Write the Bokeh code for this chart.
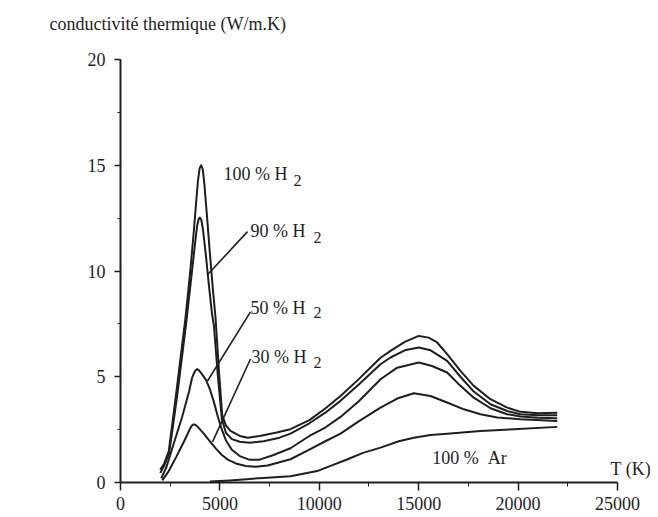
from bokeh.plotting import figure
from bokeh.models import SingleIntervalTicker, Label, Range1d, BasicTickFormatter
from bokeh.embed import file_html
from bokeh.resources import INLINE

# ---- data ----
T_h100 = [2000, 2200, 2431, 2800, 3270, 3500, 3700, 3800, 3900, 3980, 4060, 4140, 4220, 4350,
          4500, 4650, 4780, 4950, 5114, 5300, 5533, 6000, 6400, 7000, 7800, 8550, 9500, 10300,
          11067, 12000, 13080, 13580, 14300, 15000, 15500, 15930, 16430, 17100, 17770, 18610,
          19450, 20120, 21000, 21970]
k_h100 = [0.6, 0.9, 1.49, 4.2, 7.8, 9.9, 12.0, 13.2, 14.3, 14.85, 15.0, 14.8, 14.1, 12.6,
          10.8, 9.1, 7.8, 5.3, 3.2, 2.7, 2.44, 2.2, 2.12, 2.2, 2.35, 2.52, 2.95, 3.5,
          4.09, 4.9, 5.9, 6.22, 6.65, 6.93, 6.85, 6.62, 6.07, 5.28, 4.57, 3.94,
          3.54, 3.34, 3.28, 3.30]

T_h90 = [2000, 2200, 2450, 2850, 3300, 3550, 3750, 3850, 3930, 3990, 4070, 4150, 4300, 4450,
         4600, 4700, 4900, 5100, 5300, 5600, 6000, 6500, 7200, 8000, 8550, 9500, 10300, 11067,
         12000, 13080, 13580, 14300, 15000, 15600, 16430, 17100, 17770, 18610, 19450, 20120,
         21000, 21970]
k_h90 = [0.45, 0.8, 1.4, 4.1, 7.5, 9.6, 11.3, 12.1, 12.45, 12.53, 12.4, 11.95, 10.7, 9.3,
         8.0, 7.4, 5.0, 3.0, 2.35, 2.05, 1.93, 1.88, 1.95, 2.12, 2.31, 2.8, 3.3, 3.86,
         4.65, 5.59, 5.91, 6.25, 6.38, 6.25, 5.75, 5.0, 4.30, 3.70, 3.38, 3.23,
         3.18, 3.18]

T_h50 = [2050, 2300, 2700, 3100, 3450, 3600, 3720, 3800, 3857, 3950, 4050, 4300, 4500, 4700,
         4900, 5100, 5300, 5600, 6000, 6500, 7000, 7700, 8550, 9500, 10300, 11067, 12000, 13080,
         13920, 15000, 15670, 16430, 17100, 17770, 18610, 19450, 20120, 21000, 21970]
k_h50 = [0.2, 0.7, 1.9, 3.1, 4.3, 4.95, 5.22, 5.33, 5.36, 5.3, 5.18, 4.85, 4.4, 3.8,
         3.1, 2.5, 2.0, 1.55, 1.25, 1.07, 1.08, 1.3, 1.62, 2.2, 2.6, 3.10, 3.85, 4.88,
         5.43, 5.67, 5.51, 5.2, 4.57, 4.01, 3.51, 3.23, 3.12, 3.06, 3.04]

T_h30 = [2100, 2400, 2800, 3200, 3500, 3600, 3680, 3780, 3900, 4200, 4500, 4800, 5100, 5400,
         5800, 6300, 6800, 7400, 8550, 9500, 10300, 11067, 12000, 13080, 13920, 14755, 15590,
         16430, 17270, 18110, 18950, 20120, 21970]
k_h30 = [0.1, 0.5, 1.2, 1.95, 2.55, 2.7, 2.75, 2.72, 2.62, 2.3, 1.95, 1.6, 1.3, 1.08,
         0.9, 0.78, 0.74, 0.8, 1.10, 1.55, 1.95, 2.31, 2.9, 3.54, 3.97, 4.22, 4.09,
         3.78, 3.46, 3.23, 3.07, 2.99, 2.91]

T_ar = [4500, 5500, 6500, 7380, 8550, 9890, 10600, 11300, 12200, 13080, 14000, 14755, 15600,
        16430, 18110, 19780, 21970]
k_ar = [0.05, 0.1, 0.17, 0.23, 0.3, 0.54, 0.8, 1.05, 1.4, 1.65, 1.95, 2.12, 2.25,
        2.31, 2.44, 2.52, 2.63]

x_axis_bounds = (0, 25000)
y_axis_bounds = (0, 20)
x_ticks_interval = 5000
y_ticks_interval = 5

# leader lines (annotation) : [T0, T1], [k0, k1]
lead_90 = ([4376, 6388], [9.82, 11.86])
lead_50 = ([4376, 6539], [4.80, 8.07])
lead_30 = ([4628, 6539], [1.92, 5.84])

SERIF = "Liberation Serif"
INK = "#1e1e1e"

p = figure(width=658, height=517, x_range=Range1d(0, 26660), y_range=Range1d(0, 20),
           output_backend="svg", toolbar_location=None,
           title="conductivité thermique (W/m.K)\n ",
           min_border_left=120, min_border_right=8, min_border_top=59, min_border_bottom=35)
p.title.text_font = SERIF
p.title.text_font_size = "18px"
p.title.text_font_style = "normal"
p.title.text_color = INK
p.title.align = "left"
p.title.offset = -71
p.title.standoff = 12

p.grid.visible = False
p.outline_line_color = None
p.background_fill_color = "white"
p.border_fill_color = "white"

for ax in (p.xaxis[0], p.yaxis[0]):
    ax.axis_line_width = 2
    ax.axis_line_color = INK
    ax.major_tick_line_color = INK
    ax.minor_tick_line_color = INK
    ax.major_tick_line_width = 1.5
    ax.minor_tick_line_width = 1
    ax.major_tick_in = 0
    ax.minor_tick_in = 0
    ax.major_label_text_font = SERIF
    ax.major_label_text_font_size = "18px"
    ax.major_label_text_color = INK

p.xaxis.bounds = x_axis_bounds
p.yaxis.bounds = y_axis_bounds
p.xaxis.ticker = SingleIntervalTicker(interval=x_ticks_interval, num_minor_ticks=2)
p.yaxis.ticker = SingleIntervalTicker(interval=y_ticks_interval, num_minor_ticks=2)
p.xaxis.formatter = BasicTickFormatter(use_scientific=False)
p.xaxis.major_tick_out = 8
p.xaxis.minor_tick_out = 4
p.xaxis.major_label_standoff = 6
p.yaxis.major_tick_out = 6
p.yaxis.minor_tick_out = 3
p.yaxis.major_label_standoff = 9

for T, k in [(T_h100, k_h100), (T_h90, k_h90), (T_h50, k_h50), (T_h30, k_h30), (T_ar, k_ar)]:
    p.line(T, k, line_width=2, line_color=INK, line_join="round")

for xs, ys in (lead_90, lead_50, lead_30):
    p.line(xs, ys, line_width=1.6, line_color=INK)

def lab(x, y, t, size="18px"):
    p.add_layout(Label(x=x, y=y, text=t, text_font=SERIF, text_font_size=size,
                       text_color=INK, text_baseline="middle", text_align="left"))

lab(5181, 14.6, "100 % H")
lab(8702, 14.27, "2", "16px")
lab(6539, 11.9, "90 % H")
lab(9708, 11.59, "2", "16px")
lab(6539, 8.27, "50 % H")
lab(9708, 8.04, "2", "16px")
lab(6590, 5.94, "30 % H")
lab(9708, 5.66, "2", "16px")
lab(15679, 1.17, "100 %\u00a0\u00a0Ar")
lab(24648, 0.64, "T (K)")

open("out.html", "w").write(file_html(p, INLINE))
